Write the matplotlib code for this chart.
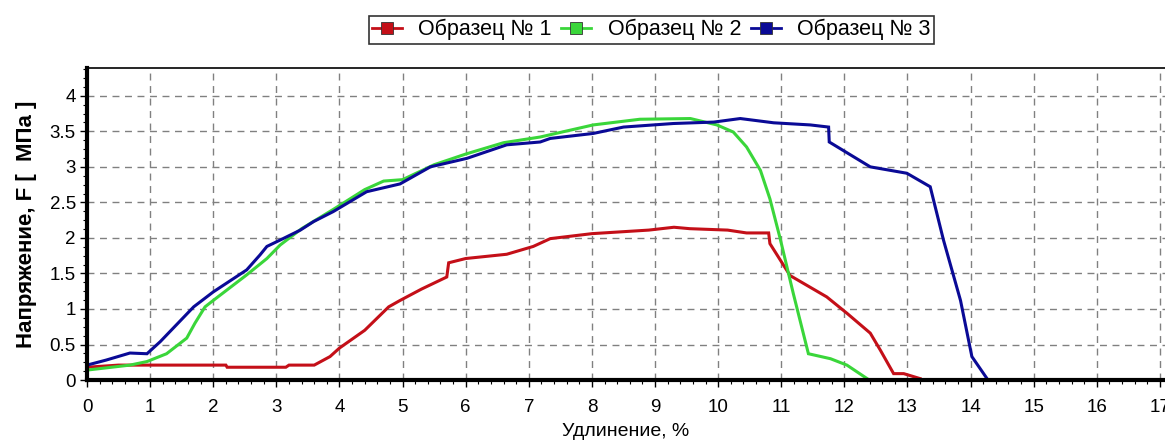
import matplotlib.pyplot as plt
from matplotlib.ticker import MultipleLocator

plt.rcParams['font.family'] = ['Liberation Sans', 'DejaVu Sans']

# Образец № 1
x1 = [0, 0.5, 1.0, 2.2, 2.22, 3.15, 3.2, 3.6, 3.85, 4.0, 4.4, 4.78, 4.96, 5.3, 5.7, 5.73,
      6.0, 6.65, 7.07, 7.34, 8.0, 8.9, 9.3, 9.55, 10.15, 10.45, 10.8, 10.82, 11.14, 11.72,
      12.04, 12.41, 12.57, 12.78, 12.94, 13.2]
y1 = [0.18, 0.21, 0.21, 0.21, 0.18, 0.18, 0.21, 0.21, 0.33, 0.45, 0.70, 1.03, 1.12, 1.28, 1.45, 1.65,
      1.71, 1.77, 1.88, 1.99, 2.06, 2.11, 2.15, 2.13, 2.11, 2.07, 2.07, 1.92, 1.47, 1.17,
      0.94, 0.66, 0.42, 0.09, 0.09, 0.02]

# Образец № 2
x2 = [0, 0.68, 0.95, 1.26, 1.58, 1.71, 1.87, 2.0, 2.53, 2.85, 3.06, 3.4, 3.9, 4.4, 4.7, 5.0,
      5.5, 6.0, 6.6, 7.18, 8.02, 8.76, 9.56, 9.98, 10.24, 10.45, 10.67, 10.82, 10.98, 11.19,
      11.43, 11.78, 12.04, 12.36]
y2 = [0.14, 0.21, 0.26, 0.37, 0.59, 0.80, 1.03, 1.12, 1.48, 1.71, 1.90, 2.13, 2.40, 2.68, 2.80, 2.82,
      3.03, 3.18, 3.34, 3.42, 3.59, 3.67, 3.68, 3.59, 3.49, 3.28, 2.95, 2.55, 2.0, 1.22,
      0.37, 0.30, 0.21, 0.02]

# Образец № 3
x3 = [0, 0.3, 0.68, 0.95, 1.16, 1.69, 2.0, 2.53, 2.74, 2.85, 3.06, 3.38, 3.59, 3.9, 4.43, 4.96,
      5.44, 6.02, 6.65, 7.18, 7.34, 8.02, 8.5, 9.29, 9.93, 10.35, 10.88, 11.46, 11.75, 11.76,
      12.41, 12.99, 13.36, 13.57, 13.84, 14.02, 14.26]
y3 = [0.21, 0.28, 0.38, 0.37, 0.54, 1.03, 1.24, 1.55, 1.76, 1.88, 1.97, 2.11, 2.23, 2.37, 2.65, 2.76,
      3.0, 3.12, 3.31, 3.35, 3.40, 3.47, 3.56, 3.61, 3.63, 3.68, 3.62, 3.59, 3.56, 3.35,
      3.0, 2.91, 2.72, 1.97, 1.12, 0.33, 0.02]

labels = ['Образец № 1', 'Образец № 2', 'Образец № 3']
colors = ['#c40f18', '#3ad63a', '#0a0a96']
yticks = [0, 0.5, 1, 1.5, 2, 2.5, 3, 3.5, 4]
yticklabels = ['0', '0.5', '1', '1.5', '2', '2.5', '3', '3.5', '4']

fig = plt.figure(figsize=(11.65, 4.45), dpi=100)
ax = fig.add_axes([0.0747, 0.146, 0.9253, 0.701])

for x, y, lab, c in zip([x1, x2, x3], [y1, y2, y3], labels, colors):
    ax.plot(x, y, color=c, lw=2.2, label=lab, solid_joinstyle='miter')

ax.set_xlim(0, 17.08)
ax.set_ylim(0, 4.39)
ax.xaxis.set_major_locator(MultipleLocator(1))
ax.xaxis.set_minor_locator(MultipleLocator(0.2))
ax.set_yticks(yticks)
ax.set_yticklabels(yticklabels)
ax.yaxis.set_minor_locator(MultipleLocator(0.125))
ax.tick_params(which='major', length=5, width=1, labelsize=13.5, pad=3)
ax.tick_params(axis='x', which='major', pad=9)
ax.tick_params(which='minor', length=3, width=0.8)

ax.grid(True, which='major', color='#808080', linestyle=(0, (5, 4)), lw=1.0)

ax.spines['left'].set_linewidth(3)
ax.spines['bottom'].set_linewidth(3)
ax.spines['top'].set_linewidth(1.2)
ax.spines['right'].set_visible(False)

ax.set_xlabel('Удлинение, %', fontsize=14, labelpad=5)
ax.set_ylabel('Напряжение, F [  МПа ]', fontsize=16, fontweight='bold', labelpad=9)

leg_handles = [plt.Line2D([], [], color=c, lw=2, marker='s', markersize=9,
                          markeredgecolor='#333333', markeredgewidth=0.6) for c in colors]
leg = fig.legend(leg_handles, labels, loc='center', bbox_to_anchor=(0.559, 0.933),
                 ncol=3, frameon=True, fancybox=False, fontsize=15.5, handlelength=1.4,
                 handletextpad=0.75, columnspacing=0.45, borderpad=0.15, edgecolor='black')
leg.get_frame().set_linewidth(1.2)

fig.savefig('out.png', dpi=100)
